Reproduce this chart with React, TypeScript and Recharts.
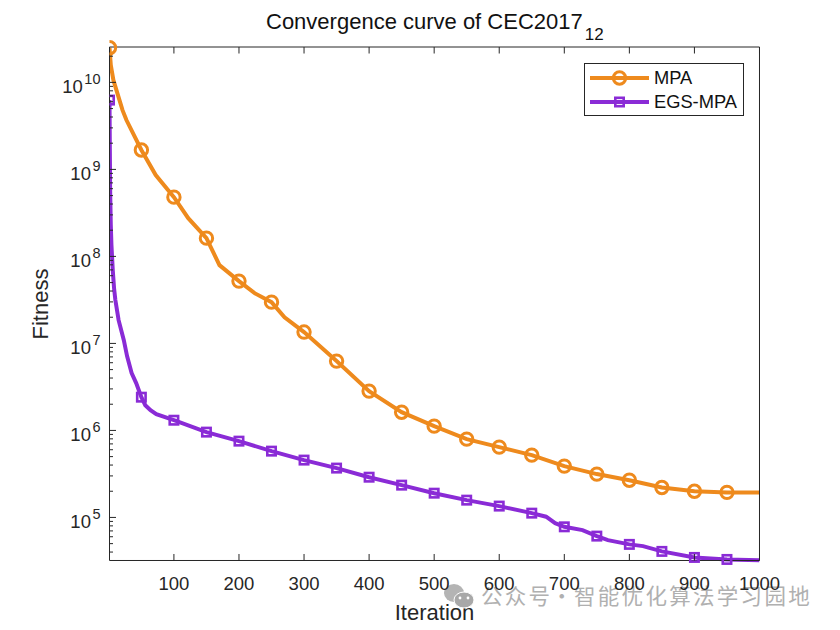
import { ComposedChart, Line, XAxis, YAxis, Legend } from 'recharts';

const title = 'Convergence curve of CEC2017';
const titleSub = '12';
const xLabel = 'Iteration';
const yLabel = 'Fitness';
const watermarkParts = ['公众号', '·', '智能优化算法学习园地'];

const seriesNames = ['MPA', 'EGS-MPA'];
const seriesColors = ['#EE8A1D', '#8A2BD6'];

const xTicks = [100, 200, 300, 400, 500, 600, 700, 800, 900, 1000];
const yMajor = [1e5, 1e6, 1e7, 1e8, 1e9, 1e10];
const yMinor = [
  4e4, 5e4, 6e4, 7e4, 8e4, 9e4,
  2e5, 3e5, 4e5, 5e5, 6e5, 7e5, 8e5, 9e5,
  2e6, 3e6, 4e6, 5e6, 6e6, 7e6, 8e6, 9e6,
  2e7, 3e7, 4e7, 5e7, 6e7, 7e7, 8e7, 9e7,
  2e8, 3e8, 4e8, 5e8, 6e8, 7e8, 8e8, 9e8,
  2e9, 3e9, 4e9, 5e9, 6e9, 7e9, 8e9, 9e9,
  2e10,
];
const yTicks = [...yMinor, ...yMajor].sort((a, b) => a - b);
const yDomain = [3.2e4, 2.55e10];

const mpaIter = [1, 3, 7, 21, 27, 50, 72, 100, 122, 150, 170, 200, 224, 250, 270, 300, 350, 400, 450, 500, 550, 600, 650, 700, 750, 800, 850, 900, 950, 1000];
const mpaFitness = [2.5e10, 1.58e10, 1.06e10, 4.8e9, 3.69e9, 1.67e9, 8.6e8, 4.8e8, 2.75e8, 1.62e8, 7.94e7, 5.2e7, 3.78e7, 2.98e7, 2.0e7, 1.35e7, 6.26e6, 2.83e6, 1.62e6, 1.12e6, 7.94e5, 6.43e5, 5.2e5, 3.89e5, 3.15e5, 2.68e5, 2.21e5, 2.0e5, 1.94e5, 1.93e5];

const egsIter = [1, 2, 3, 4, 6, 8, 10, 15, 23, 28, 35, 42, 50, 56, 64, 73, 100, 150, 200, 250, 300, 350, 400, 450, 500, 550, 600, 650, 672, 686, 700, 728, 750, 767, 800, 821, 850, 900, 950, 1000];
const egsFitness = [6.26e9, 5.78e8, 2.29e8, 1.35e8, 6.96e7, 4.32e7, 3.15e7, 1.85e7, 1.09e7, 7.15e6, 4.56e6, 3.5e6, 2.41e6, 1.95e6, 1.71e6, 1.54e6, 1.31e6, 9.56e5, 7.53e5, 5.78e5, 4.56e5, 3.69e5, 2.9e5, 2.35e5, 1.9e5, 1.58e5, 1.35e5, 1.12e5, 1.02e5, 8.6e4, 7.8e4, 7.15e4, 6.1e4, 5.48e4, 4.9e4, 4.68e4, 4.07e4, 3.47e4, 3.29e4, 3.23e4];

const mpaData = mpaIter.map((iter, i) => ({ iter, fitness: mpaFitness[i] }));
const egsData = egsIter.map((iter, i) => ({ iter, fitness: egsFitness[i] }));

const FONT = '"Liberation Sans", Arial, sans-serif';
const INK = '#262626';

const isMarked = (iter: number) => iter === 1 || (iter % 50 === 0 && iter < 1000);

function CircleDot(props: any) {
  const { cx, cy, payload, index } = props;
  if (!isMarked(payload.iter)) return <g key={index} />;
  return <circle key={index} cx={cx} cy={cy} r={6.2} fill="none" stroke={seriesColors[0]} strokeWidth={3} />;
}

function SquareDot(props: any) {
  const { cx, cy, payload, index } = props;
  if (!isMarked(payload.iter)) return <g key={index} />;
  return <rect key={index} x={cx - 4.2} y={cy - 4.2} width={8.4} height={8.4} fill="none" stroke={seriesColors[1]} strokeWidth={2.6} />;
}

function BottomTick({ x, y, payload }: any) {
  return (
    <g>
      <line x1={x} x2={x} y1={y} y2={y - 6.5} stroke={INK} />
      <text x={x} y={y + 29.5} textAnchor="middle" fontSize={18.5} fontFamily={FONT} fill={INK}>{payload.value}</text>
    </g>
  );
}

function TopTick({ x, y }: any) {
  return <line x1={x} x2={x} y1={y} y2={y + 6.5} stroke={INK} />;
}

function LeftTick({ x, y, payload }: any) {
  const major = yMajor.includes(payload.value);
  return (
    <g>
      <line x1={x} x2={x + (major ? 6.5 : 3.5)} y1={y} y2={y} stroke={INK} />
      {major && (
        <text x={x - 9} y={y + 11} textAnchor="end" fontSize={18.5} fontFamily={FONT} fill={INK}>
          10
          <tspan dx={1.5} dy={-9.5} fontSize={14.5}>{Math.round(Math.log10(payload.value))}</tspan>
        </text>
      )}
    </g>
  );
}

function RightTick({ x, y, payload }: any) {
  const major = yMajor.includes(payload.value);
  return <line x1={x} x2={x - (major ? 6.5 : 3.5)} y1={y} y2={y} stroke={INK} />;
}

function LegendBox({ payload }: any) {
  return (
    <div style={{ width: 158, height: 51, border: `1px solid ${INK}`, background: '#fff', fontFamily: FONT, fontSize: 18.3, color: '#111', boxSizing: 'content-box' }}>
      {(payload || []).map((entry: any, i: number) => (
        <div key={entry.value} style={{ display: 'flex', alignItems: 'center', height: 24, marginTop: i === 0 ? 2 : 0 }}>
          <svg width={69} height={24} style={{ flex: 'none' }}>
            <line x1={5} x2={64} y1={12} y2={12} stroke={entry.color} strokeWidth={4} />
            {i === 0
              ? <circle cx={34.5} cy={12} r={6.2} fill="none" stroke={entry.color} strokeWidth={3} />
              : <rect x={30.3} y={7.8} width={8.4} height={8.4} fill="none" stroke={entry.color} strokeWidth={2.6} />}
          </svg>
          <span>{entry.value}</span>
        </div>
      ))}
    </div>
  );
}

export default function App() {
  return (
    <div style={{ position: 'absolute', left: 0, top: 0, width: 840, height: 630, background: '#fff' }}>
      <ComposedChart width={840} height={630} margin={{ top: 47, right: 80.5, bottom: 69.5, left: 0 }}>
        <XAxis xAxisId="bottom" dataKey="iter" type="number" domain={[1, 1000]} ticks={xTicks} interval={0} height={0.01} tickSize={0} tickMargin={0} tick={BottomTick} stroke={INK} allowDataOverflow />
        <XAxis xAxisId="top" orientation="top" dataKey="iter" type="number" domain={[1, 1000]} ticks={xTicks} interval={0} height={0.01} tickSize={0} tickMargin={0} tick={TopTick} stroke={INK} allowDataOverflow />
        <YAxis yAxisId="left" scale="log" type="number" domain={yDomain} ticks={yTicks} interval={0} width={109.5} tickSize={0} tickMargin={0} tick={LeftTick} stroke={INK} />
        <YAxis yAxisId="right" orientation="right" scale="log" type="number" domain={yDomain} ticks={yTicks} interval={0} width={0.01} tickSize={0} tickMargin={0} tick={RightTick} stroke={INK} />
        <Legend layout="vertical" align="center" verticalAlign="middle" itemSorter={null} wrapperStyle={{ left: 584, top: 63, width: 160 }} content={LegendBox} />
        <Line xAxisId="bottom" yAxisId="left" data={mpaData} dataKey="fitness" name={seriesNames[0]} stroke={seriesColors[0]} strokeWidth={4} dot={CircleDot} activeDot={false} isAnimationActive={false} />
        <Line xAxisId="bottom" yAxisId="left" data={egsData} dataKey="fitness" name={seriesNames[1]} stroke={seriesColors[1]} strokeWidth={4} dot={SquareDot} activeDot={false} isAnimationActive={false} />
        <text x={266} y={29} fontSize={22} fontFamily={FONT} fill="#111">
          {title}
          <tspan dx={2} dy={11} fontSize={17}>{titleSub}</tspan>
        </text>
        <text x={434.5} y={620} textAnchor="middle" fontSize={22} fontFamily={FONT} fill={INK}>{xLabel}</text>
        <text x={48} y={304} textAnchor="middle" transform="rotate(-90 48 304)" fontSize={22} fontFamily={FONT} fill={INK}>{yLabel}</text>
        <ellipse cx={454} cy={593} rx={10} ry={9} fill="#b4b4b4" />
        <ellipse cx={464} cy={600} rx={10} ry={8} fill="#a8a8a8" stroke="#fff" />
        <circle cx={460} cy={598} r={1.4} fill="#fff" />
        <circle cx={468} cy={598} r={1.4} fill="#fff" />
        <text y={604} fontSize={21.5} letterSpacing={2.3} fontFamily={'"Noto Sans CJK SC"'} fill="#b0b0b0">
          <tspan x={481}>{watermarkParts[0]}</tspan>
          <tspan x={551}>{watermarkParts[1]}</tspan>
          <tspan x={574}>{watermarkParts[2]}</tspan>
        </text>
      </ComposedChart>
    </div>
  );
}
